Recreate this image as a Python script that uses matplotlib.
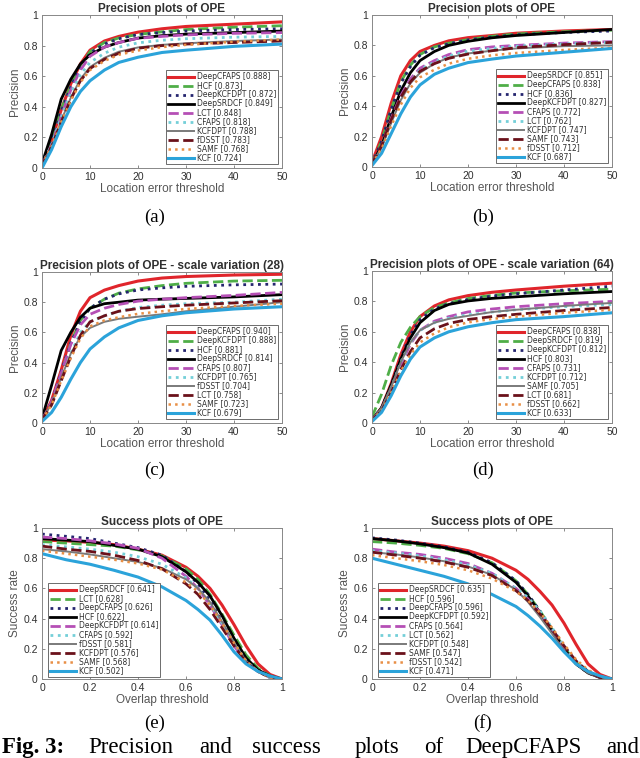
import matplotlib
matplotlib.use('Agg')
import matplotlib.pyplot as plt

plt.rcParams['font.family'] = ['Liberation Sans', 'DejaVu Sans']

# thresholds sampled along the x axis
prec_thresh = [0, 2, 4, 6, 8, 10, 13, 16, 20, 25, 30, 40, 50]
succ_thresh = [0, 0.1, 0.2, 0.3, 0.4, 0.5, 0.6, 0.65, 0.7, 0.75, 0.8, 0.85, 0.9, 0.95, 1.0]

# (a) precision plots of OPE
a_methods = ['DeepCFAPS', 'HCF', 'DeepKCFDPT', 'DeepSRDCF', 'LCT', 'CFAPS', 'KCFDPT', 'fDSST', 'SAMF', 'KCF']
a_scores = [0.888, 0.873, 0.872, 0.849, 0.848, 0.818, 0.788, 0.783, 0.768, 0.724]
a_curves = [
    [0.02, 0.18, 0.38, 0.55, 0.68, 0.77, 0.83, 0.86, 0.888, 0.91, 0.925, 0.94, 0.955],
    [0.02, 0.18, 0.38, 0.54, 0.67, 0.76, 0.82, 0.85, 0.873, 0.89, 0.905, 0.92, 0.93],
    [0.02, 0.17, 0.37, 0.53, 0.66, 0.75, 0.81, 0.845, 0.872, 0.885, 0.895, 0.905, 0.91],
    [0.03, 0.22, 0.45, 0.58, 0.68, 0.74, 0.79, 0.82, 0.849, 0.865, 0.875, 0.885, 0.895],
    [0.02, 0.15, 0.34, 0.51, 0.64, 0.73, 0.79, 0.82, 0.848, 0.86, 0.87, 0.88, 0.885],
    [0.02, 0.15, 0.33, 0.49, 0.61, 0.69, 0.75, 0.79, 0.818, 0.835, 0.845, 0.855, 0.86],
    [0.02, 0.14, 0.31, 0.46, 0.58, 0.66, 0.72, 0.76, 0.788, 0.805, 0.815, 0.83, 0.84],
    [0.02, 0.14, 0.30, 0.45, 0.57, 0.65, 0.71, 0.75, 0.783, 0.80, 0.81, 0.82, 0.83],
    [0.02, 0.14, 0.30, 0.44, 0.56, 0.64, 0.70, 0.74, 0.768, 0.79, 0.805, 0.825, 0.84],
    [0.00, 0.12, 0.27, 0.40, 0.50, 0.57, 0.64, 0.69, 0.724, 0.755, 0.77, 0.795, 0.81],
]

# (b) precision plots of OPE
b_methods = ['DeepSRDCF', 'DeepCFAPS', 'HCF', 'DeepKCFDPT', 'CFAPS', 'LCT', 'KCFDPT', 'SAMF', 'fDSST', 'KCF']
b_scores = [0.851, 0.838, 0.836, 0.827, 0.772, 0.762, 0.747, 0.743, 0.712, 0.687]
b_curves = [
    [0.03, 0.20, 0.42, 0.60, 0.70, 0.76, 0.80, 0.83, 0.851, 0.865, 0.88, 0.895, 0.905],
    [0.02, 0.17, 0.38, 0.56, 0.67, 0.74, 0.79, 0.815, 0.838, 0.86, 0.875, 0.89, 0.90],
    [0.02, 0.17, 0.38, 0.55, 0.66, 0.735, 0.785, 0.81, 0.836, 0.855, 0.87, 0.885, 0.895],
    [0.02, 0.14, 0.33, 0.50, 0.62, 0.70, 0.76, 0.80, 0.827, 0.85, 0.865, 0.885, 0.905],
    [0.02, 0.14, 0.32, 0.47, 0.58, 0.65, 0.70, 0.74, 0.772, 0.79, 0.80, 0.815, 0.825],
    [0.02, 0.13, 0.30, 0.45, 0.56, 0.64, 0.69, 0.73, 0.762, 0.78, 0.795, 0.81, 0.82],
    [0.02, 0.13, 0.29, 0.44, 0.55, 0.62, 0.68, 0.72, 0.747, 0.765, 0.78, 0.795, 0.80],
    [0.02, 0.14, 0.31, 0.46, 0.56, 0.63, 0.68, 0.715, 0.743, 0.765, 0.785, 0.805, 0.82],
    [0.02, 0.12, 0.27, 0.41, 0.52, 0.59, 0.64, 0.68, 0.712, 0.735, 0.75, 0.77, 0.785],
    [0.01, 0.09, 0.22, 0.35, 0.46, 0.54, 0.61, 0.65, 0.687, 0.71, 0.73, 0.755, 0.78],
]

# (c) precision plots of OPE - scale variation (28)
c_methods = ['DeepCFAPS', 'DeepKCFDPT', 'HCF', 'DeepSRDCF', 'CFAPS', 'KCFDPT', 'fDSST', 'LCT', 'SAMF', 'KCF']
c_scores = [0.940, 0.888, 0.881, 0.814, 0.807, 0.765, 0.704, 0.758, 0.723, 0.679]
c_curves = [
    [0.02, 0.15, 0.35, 0.58, 0.74, 0.83, 0.88, 0.91, 0.94, 0.96, 0.97, 0.98, 0.985],
    [0.02, 0.13, 0.33, 0.53, 0.68, 0.76, 0.82, 0.86, 0.888, 0.91, 0.925, 0.94, 0.945],
    [0.02, 0.14, 0.34, 0.53, 0.67, 0.76, 0.82, 0.855, 0.881, 0.895, 0.905, 0.915, 0.92],
    [0.03, 0.25, 0.48, 0.60, 0.70, 0.76, 0.79, 0.80, 0.814, 0.82, 0.825, 0.835, 0.85],
    [0.02, 0.14, 0.33, 0.52, 0.65, 0.72, 0.76, 0.785, 0.807, 0.82, 0.83, 0.845, 0.865],
    [0.02, 0.12, 0.29, 0.46, 0.60, 0.67, 0.71, 0.74, 0.765, 0.78, 0.79, 0.80, 0.82],
    [0.02, 0.13, 0.30, 0.46, 0.57, 0.63, 0.67, 0.69, 0.704, 0.72, 0.74, 0.77, 0.80],
    [0.02, 0.12, 0.28, 0.44, 0.58, 0.67, 0.71, 0.74, 0.758, 0.77, 0.78, 0.795, 0.81],
    [0.02, 0.12, 0.28, 0.43, 0.56, 0.64, 0.68, 0.70, 0.723, 0.74, 0.755, 0.775, 0.79],
    [0.01, 0.07, 0.17, 0.29, 0.40, 0.49, 0.57, 0.63, 0.679, 0.71, 0.73, 0.755, 0.77],
]

# (d) precision plots of OPE - scale variation (64)
d_methods = ['DeepCFAPS', 'DeepSRDCF', 'DeepKCFDPT', 'HCF', 'CFAPS', 'KCFDPT', 'SAMF', 'LCT', 'fDSST', 'KCF']
d_scores = [0.838, 0.819, 0.812, 0.803, 0.731, 0.712, 0.705, 0.681, 0.662, 0.633]
d_curves = [
    [0.02, 0.10, 0.26, 0.45, 0.60, 0.70, 0.77, 0.81, 0.838, 0.86, 0.875, 0.90, 0.92],
    [0.04, 0.19, 0.38, 0.53, 0.63, 0.70, 0.76, 0.79, 0.819, 0.84, 0.855, 0.87, 0.88],
    [0.02, 0.10, 0.25, 0.43, 0.58, 0.68, 0.75, 0.785, 0.812, 0.835, 0.85, 0.875, 0.90],
    [0.02, 0.10, 0.25, 0.42, 0.56, 0.66, 0.74, 0.78, 0.803, 0.82, 0.83, 0.85, 0.865],
    [0.02, 0.09, 0.22, 0.38, 0.52, 0.61, 0.67, 0.70, 0.731, 0.75, 0.765, 0.785, 0.80],
    [0.02, 0.09, 0.23, 0.40, 0.53, 0.61, 0.66, 0.69, 0.712, 0.73, 0.745, 0.765, 0.78],
    [0.02, 0.10, 0.24, 0.40, 0.53, 0.61, 0.66, 0.685, 0.705, 0.73, 0.745, 0.77, 0.79],
    [0.02, 0.08, 0.20, 0.35, 0.47, 0.56, 0.62, 0.655, 0.681, 0.70, 0.715, 0.74, 0.76],
    [0.02, 0.08, 0.20, 0.34, 0.45, 0.53, 0.59, 0.63, 0.662, 0.685, 0.70, 0.725, 0.745],
    [0.01, 0.07, 0.18, 0.31, 0.42, 0.50, 0.56, 0.60, 0.633, 0.66, 0.68, 0.70, 0.725],
]

# (e) success plots of OPE
e_methods = ['DeepSRDCF', 'LCT', 'DeepCFAPS', 'HCF', 'DeepKCFDPT', 'CFAPS', 'fDSST', 'KCFDPT', 'SAMF', 'KCF']
e_scores = [0.641, 0.628, 0.626, 0.622, 0.614, 0.592, 0.581, 0.576, 0.568, 0.502]
e_curves = [
    [0.92, 0.915, 0.905, 0.89, 0.86, 0.82, 0.74, 0.68, 0.60, 0.49, 0.36, 0.22, 0.10, 0.03, 0.0],
    [0.91, 0.90, 0.89, 0.88, 0.855, 0.815, 0.73, 0.66, 0.56, 0.43, 0.29, 0.16, 0.07, 0.02, 0.0],
    [0.96, 0.945, 0.93, 0.90, 0.87, 0.82, 0.71, 0.63, 0.52, 0.38, 0.24, 0.12, 0.05, 0.01, 0.0],
    [0.93, 0.92, 0.91, 0.885, 0.86, 0.81, 0.71, 0.64, 0.55, 0.42, 0.27, 0.14, 0.06, 0.02, 0.0],
    [0.94, 0.93, 0.915, 0.895, 0.865, 0.80, 0.68, 0.60, 0.49, 0.36, 0.22, 0.11, 0.05, 0.01, 0.0],
    [0.89, 0.875, 0.86, 0.84, 0.81, 0.76, 0.67, 0.60, 0.50, 0.37, 0.24, 0.12, 0.05, 0.01, 0.0],
    [0.86, 0.845, 0.825, 0.80, 0.775, 0.735, 0.66, 0.60, 0.51, 0.38, 0.24, 0.12, 0.05, 0.01, 0.0],
    [0.88, 0.86, 0.845, 0.82, 0.785, 0.73, 0.63, 0.56, 0.46, 0.34, 0.22, 0.11, 0.05, 0.01, 0.0],
    [0.85, 0.83, 0.81, 0.79, 0.765, 0.725, 0.64, 0.58, 0.49, 0.37, 0.24, 0.12, 0.05, 0.01, 0.0],
    [0.83, 0.79, 0.76, 0.72, 0.675, 0.61, 0.52, 0.46, 0.39, 0.29, 0.18, 0.10, 0.05, 0.02, 0.0],
]

# (f) success plots of OPE
f_methods = ['DeepSRDCF', 'HCF', 'DeepCFAPS', 'DeepKCFDPT', 'CFAPS', 'LCT', 'KCFDPT', 'SAMF', 'fDSST', 'KCF']
f_scores = [0.635, 0.596, 0.596, 0.592, 0.564, 0.562, 0.548, 0.547, 0.542, 0.471]
f_curves = [
    [0.93, 0.915, 0.90, 0.88, 0.85, 0.80, 0.72, 0.66, 0.58, 0.49, 0.37, 0.23, 0.10, 0.03, 0.0],
    [0.91, 0.90, 0.885, 0.865, 0.83, 0.77, 0.65, 0.56, 0.45, 0.33, 0.21, 0.11, 0.05, 0.01, 0.0],
    [0.935, 0.92, 0.90, 0.875, 0.84, 0.77, 0.65, 0.56, 0.45, 0.32, 0.20, 0.10, 0.04, 0.01, 0.0],
    [0.93, 0.915, 0.895, 0.87, 0.835, 0.76, 0.64, 0.55, 0.44, 0.32, 0.20, 0.10, 0.04, 0.01, 0.0],
    [0.86, 0.84, 0.825, 0.80, 0.765, 0.70, 0.60, 0.53, 0.44, 0.33, 0.21, 0.11, 0.05, 0.01, 0.0],
    [0.85, 0.835, 0.815, 0.79, 0.755, 0.70, 0.60, 0.54, 0.45, 0.34, 0.22, 0.11, 0.05, 0.01, 0.0],
    [0.84, 0.825, 0.805, 0.78, 0.745, 0.69, 0.59, 0.51, 0.41, 0.30, 0.19, 0.10, 0.04, 0.01, 0.0],
    [0.84, 0.82, 0.80, 0.775, 0.74, 0.685, 0.585, 0.52, 0.43, 0.33, 0.22, 0.12, 0.05, 0.01, 0.0],
    [0.82, 0.80, 0.78, 0.755, 0.72, 0.665, 0.58, 0.52, 0.44, 0.34, 0.23, 0.13, 0.06, 0.02, 0.0],
    [0.80, 0.76, 0.72, 0.68, 0.63, 0.56, 0.48, 0.42, 0.35, 0.27, 0.18, 0.10, 0.05, 0.02, 0.0],
]

# line style by rank (same for every panel)
colors = ['#e0252b', '#4fae48', '#25256f', '#000000', '#b54fb5',
          '#74cfd8', '#7a7a7a', '#6a111a', '#e88f45', '#2ba3da']
styles = ['-', '--', ':', '-', '--', ':', '-', '--', ':', '-']
widths = [2.2, 2.0, 2.0, 2.0, 2.0, 2.0, 1.4, 2.0, 1.8, 2.2]

plt.rcParams['legend.fontsize'] = 5.5
plt.rcParams['legend.handlelength'] = 3.4
plt.rcParams['legend.labelspacing'] = 0.0
plt.rcParams['legend.borderpad'] = 0.25
plt.rcParams['legend.handletextpad'] = 0.4
plt.rcParams['legend.borderaxespad'] = 0.0
plt.rcParams['legend.fancybox'] = False

W, H = 640, 758
fig = plt.figure(figsize=(W / 100, H / 100), dpi=100)

def px_axes(left, top, right, bottom):
    return fig.add_axes([left / W, 1 - bottom / H, (right - left) / W, (bottom - top) / H])

txt = '#303030'

def draw(ax, x, curves, methods, scores, title, xlabel, ylabel, success):
    for i, yv in enumerate(curves):
        ax.plot(x, yv, color=colors[i], linestyle=styles[i], linewidth=widths[i],
                label=f'{methods[i]} [{scores[i]:.3f}]')
    ax.set_ylim(0, 1)
    ax.set_yticks([0, 0.2, 0.4, 0.6, 0.8, 1])
    ax.set_yticklabels(['0', '0.2', '0.4', '0.6', '0.8', '1'])
    if success:
        ax.set_xlim(0, 1)
        ax.set_xticks([0, 0.2, 0.4, 0.6, 0.8, 1])
        ax.set_xticklabels(['0', '0.2', '0.4', '0.6', '0.8', '1'])
    else:
        ax.set_xlim(0, 50)
        ax.set_xticks([0, 10, 20, 30, 40, 50])
    ax.tick_params(direction='in', length=2.5, width=0.6, labelsize=7.5, colors='#777777',
                   labelcolor=txt, top=True, right=True, pad=3)
    for s in ax.spines.values():
        s.set_color('#888888')
        s.set_linewidth(0.7)
    ax.set_title(title, fontsize=8.5, fontweight='bold', color=txt, pad=2.5)
    ax.set_xlabel(xlabel, fontsize=8.5, color='#555555', labelpad=0.5)
    ax.set_ylabel(ylabel, fontsize=8.5, color='#555555', labelpad=2)
    if success:
        leg = ax.legend(loc='lower left', bbox_to_anchor=(0.025, 0.012))
    else:
        leg = ax.legend(loc='lower right', bbox_to_anchor=(0.985, 0.025))
    for t in leg.get_texts():
        t.set_color(txt)
        t.set_family(['DejaVu Sans'])
    leg.get_frame().set_edgecolor('#555555')
    leg.get_frame().set_linewidth(0.6)
    leg.get_frame().set_alpha(1)

ax_a = px_axes(42, 15, 282, 168)
draw(ax_a, prec_thresh, a_curves, a_methods, a_scores, 'Precision plots of OPE',
     'Location error threshold', 'Precision', False)
ax_b = px_axes(372, 15, 612, 167)
draw(ax_b, prec_thresh, b_curves, b_methods, b_scores, 'Precision plots of OPE',
     'Location error threshold', 'Precision', False)
ax_c = px_axes(42, 272, 282, 423)
draw(ax_c, prec_thresh, c_curves, c_methods, c_scores, 'Precision plots of OPE - scale variation (28)',
     'Location error threshold', 'Precision', False)
ax_d = px_axes(372, 271, 612, 423)
draw(ax_d, prec_thresh, d_curves, d_methods, d_scores, 'Precision plots of OPE - scale variation (64)',
     'Location error threshold', 'Precision', False)
ax_e = px_axes(42, 528, 282, 679)
draw(ax_e, succ_thresh, e_curves, e_methods, e_scores, 'Success plots of OPE',
     'Overlap threshold', 'Success rate', True)
ax_f = px_axes(372, 528, 612, 679)
draw(ax_f, succ_thresh, f_curves, f_methods, f_scores, 'Success plots of OPE',
     'Overlap threshold', 'Success rate', True)

# sub-figure letters
serif = ['Liberation Serif', 'DejaVu Serif']
for lab, xc, yc in [('(a)', 155, 217), ('(b)', 483, 217), ('(c)', 155, 470),
                    ('(d)', 483, 470), ('(e)', 155, 723), ('(f)', 483, 723)]:
    fig.text(xc / W, 1 - yc / H, lab, ha='center', va='center', fontsize=13.5, family=serif)

# caption line at the very bottom
base = 1 - 753 / H
fig.text(2 / W, base, 'Fig. 3:', ha='left', va='baseline', fontsize=16.5, fontweight='bold', family=serif)
for word, xw in [('Precision', 88), ('and', 199), ('success', 252), ('plots', 355),
                 ('of', 424), ('DeepCFAPS', 465), ('and', 606)]:
    fig.text(xw / W, base, word, ha='left', va='baseline', fontsize=16.5, family=serif)

fig.savefig('out.png', dpi=100)
